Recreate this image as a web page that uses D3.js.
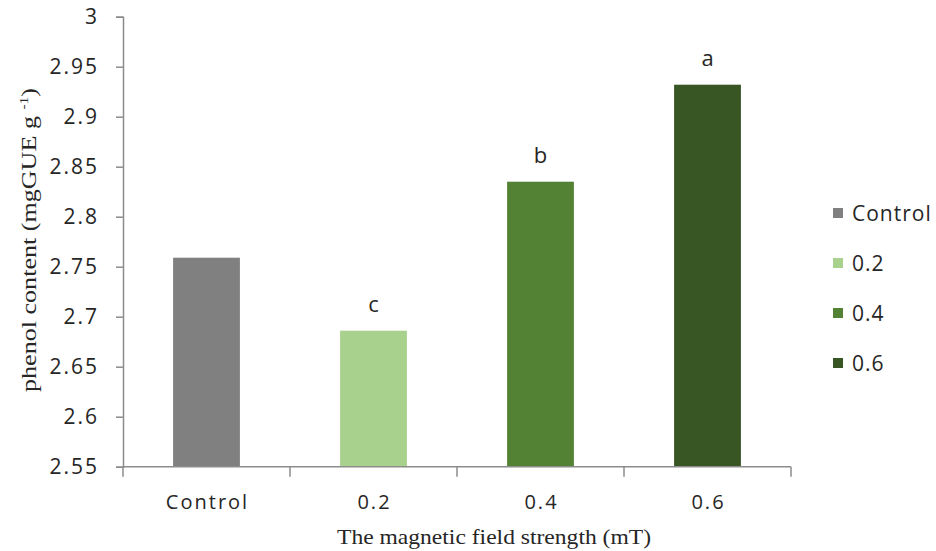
<!DOCTYPE html>
<html>
<head>
<meta charset="utf-8">
<script src="https://cdn.jsdelivr.net/npm/d3@7"></script>
<style>
  body { margin: 0; background: #ffffff; }
  svg text { fill: #262626; }
</style>
</head>
<body>
<div id="chart"></div>
<script>
const categories = ["Control", "0.2", "0.4", "0.6"];
const values = [2.759, 2.686, 2.835, 2.932];
const letters = ["", "c", "b", "a"];
const colors = ["#808080", "#a9d18e", "#548235", "#375623"];
const yTicks = [2.55, 2.6, 2.65, 2.7, 2.75, 2.8, 2.85, 2.9, 2.95, 3];
const yTickLabels = ["2.55", "2.6", "2.65", "2.7", "2.75", "2.8", "2.85", "2.9", "2.95", "3"];

const width = 936;
const height = 551;
const plotLeft = 123, plotRight = 791, plotTop = 16.7, plotBottom = 466.7;
const sans = "'Open Sans', sans-serif";
const serif = "'Liberation Serif', 'DejaVu Serif', serif";

const svg = d3.select("#chart")
  .append("svg")
  .attr("width", width)
  .attr("height", height)
  .style("background", "#ffffff");

const xScale = d3.scaleBand().domain(categories).range([plotLeft, plotRight])
  .paddingInner(0.6).paddingOuter(0.3);
const yScale = d3.scaleLinear().domain([2.55, 3]).range([plotBottom, plotTop]);

// y axis
const yAxis = d3.axisLeft(yScale)
  .tickValues(yTicks)
  .tickFormat((d, i) => yTickLabels[i])
  .tickSize(7)
  .tickPadding(17);

const gy = svg.append("g")
  .attr("transform", `translate(${plotLeft}, 0)`)
  .call(yAxis);
gy.select(".domain").attr("stroke", "#8c8c8c").attr("stroke-width", 1.5);
gy.selectAll(".tick line").attr("stroke", "#8c8c8c").attr("stroke-width", 1.5);
gy.selectAll(".tick text")
  .attr("font-family", sans)
  .attr("font-size", 21)
  .attr("letter-spacing", 2)
  .attr("fill", "#262626");

// bars
svg.append("g")
  .selectAll("rect")
  .data(values)
  .enter()
  .append("rect")
  .attr("x", (d, i) => xScale(categories[i]))
  .attr("y", d => yScale(d))
  .attr("width", xScale.bandwidth())
  .attr("height", d => plotBottom - yScale(d))
  .attr("fill", (d, i) => colors[i]);

// significance letters
svg.append("g")
  .selectAll("text")
  .data(values)
  .enter()
  .append("text")
  .attr("x", (d, i) => xScale(categories[i]) + xScale.bandwidth() / 2)
  .attr("y", d => yScale(d) - 19)
  .attr("text-anchor", "middle")
  .attr("font-family", sans)
  .attr("font-size", 22)
  .text((d, i) => letters[i]);

// x axis line and boundary ticks
const gx = svg.append("g");
gx.append("line")
  .attr("x1", plotLeft).attr("x2", plotRight)
  .attr("y1", plotBottom).attr("y2", plotBottom)
  .attr("stroke", "#8c8c8c").attr("stroke-width", 1.5);
const boundaries = categories.map(c => xScale(c) - xScale.step() * xScale.paddingInner() / 2);
boundaries.push(plotRight);
gx.selectAll("line.bt")
  .data(boundaries)
  .enter()
  .append("line")
  .attr("class", "bt")
  .attr("x1", d => d).attr("x2", d => d)
  .attr("y1", plotBottom).attr("y2", plotBottom + 10)
  .attr("stroke", "#8c8c8c").attr("stroke-width", 1.5);
gx.selectAll("text")
  .data(categories)
  .enter()
  .append("text")
  .attr("x", d => xScale(d) + xScale.bandwidth() / 2 + 1)
  .attr("y", 509)
  .attr("text-anchor", "middle")
  .attr("font-family", sans)
  .attr("font-size", 20)
  .attr("letter-spacing", 2)
  .text(d => d);

// axis titles
svg.append("text")
  .attr("x", 494)
  .attr("y", 544)
  .attr("text-anchor", "middle")
  .attr("font-family", serif)
  .attr("font-size", 21)
  .attr("textLength", 314)
  .attr("lengthAdjust", "spacingAndGlyphs")
  .text("The magnetic  field strength (mT)");

const yTitle = svg.append("text")
  .attr("transform", "translate(36, 240) rotate(-90)")
  .attr("text-anchor", "middle")
  .attr("font-family", serif)
  .attr("font-size", 22)
  .attr("textLength", 304)
  .attr("lengthAdjust", "spacingAndGlyphs");
yTitle.append("tspan").text("phenol content  (mgGUE g ");
yTitle.append("tspan").attr("dy", -8).attr("font-size", 13).text("-1");
yTitle.append("tspan").attr("dy", 8).text(")");

// legend
const legend = svg.append("g")
  .selectAll("g")
  .data(categories)
  .enter()
  .append("g")
  .attr("transform", (d, i) => `translate(833, ${213 + i * 50})`);
legend.append("rect")
  .attr("x", 0).attr("y", -5)
  .attr("width", 10).attr("height", 10)
  .attr("fill", (d, i) => colors[i]);
legend.append("text")
  .attr("x", 19)
  .attr("y", 8)
  .attr("font-family", sans)
  .attr("font-size", 21)
  .attr("letter-spacing", 1)
  .text(d => d);
</script>
</body>
</html>
